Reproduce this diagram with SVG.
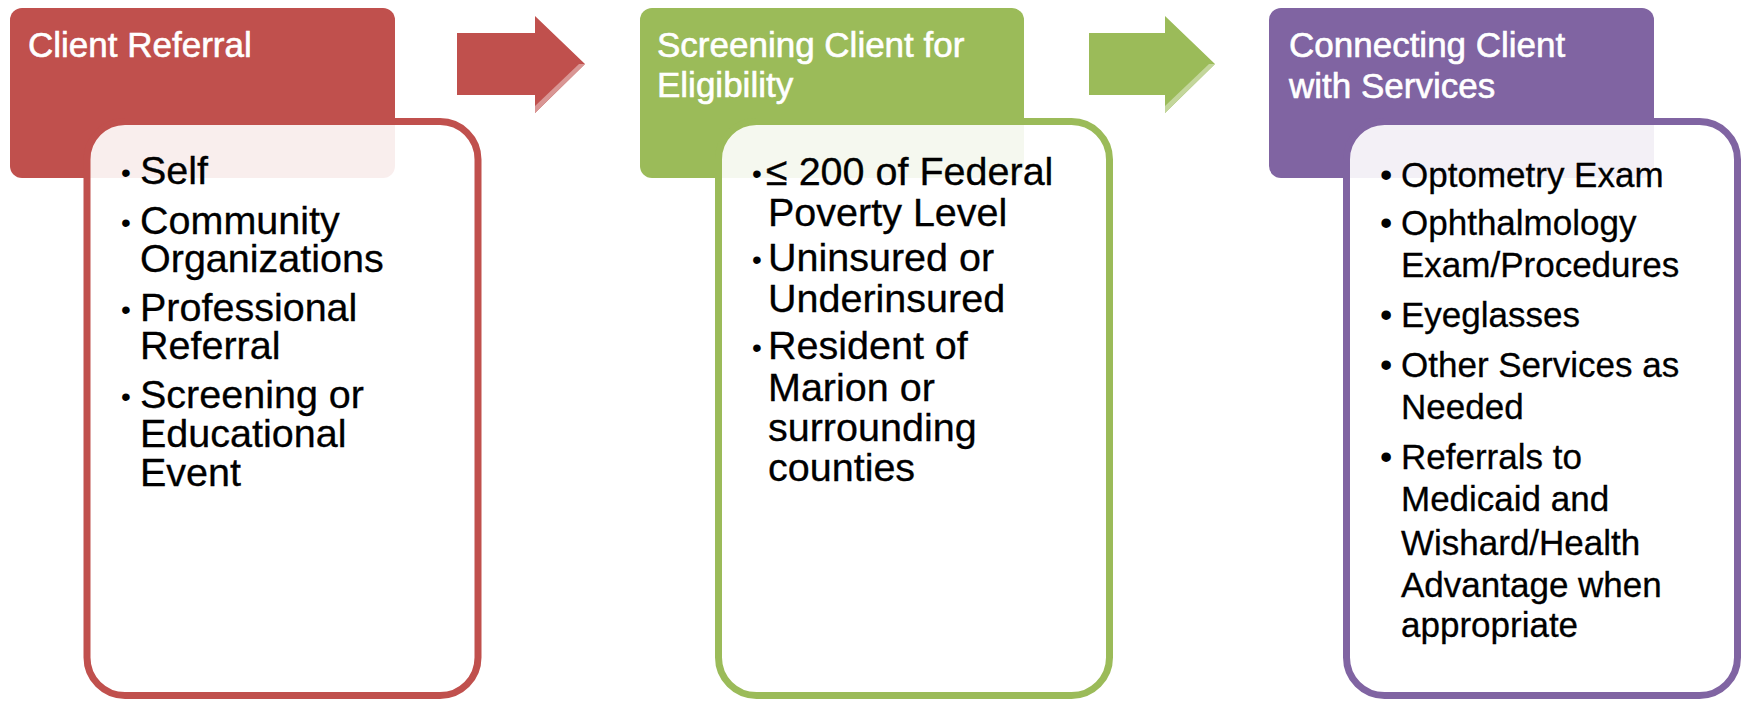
<svg xmlns="http://www.w3.org/2000/svg" width="1746" height="701" viewBox="0 0 1746 701">
<style>
.title{font-family:"Liberation Sans",Arial,sans-serif;font-size:35px;fill:#ffffff;stroke:#ffffff;stroke-width:0.6}
.item{font-family:"Liberation Sans",Arial,sans-serif;font-size:39.5px;fill:#000000;stroke:#000000;stroke-width:0.3}
.item2{font-family:"Liberation Sans",Arial,sans-serif;font-size:35px;fill:#000000;stroke:#000000;stroke-width:0.3}
.dot{font-family:"Liberation Sans",Arial,sans-serif;font-size:28px;fill:#000000}
.dot2{font-family:"Liberation Sans",Arial,sans-serif;font-size:35px;fill:#000000}
.body{fill:#ffffff;fill-opacity:0.9;stroke-width:7}
</style>
<rect width="1746" height="701" fill="#ffffff"/>
<g id="step1-header"><rect x="10" y="8" width="385" height="170" rx="12" fill="#C0504D"/><text class="title" x="28" y="57">Client Referral</text></g>
<g id="step2-header"><rect x="640" y="8" width="384" height="170" rx="12" fill="#9BBB59"/><text class="title" x="657" y="57">Screening Client for</text><text class="title" x="657" y="97">Eligibility</text></g>
<g id="step3-header"><rect x="1269" y="8" width="385" height="170" rx="12" fill="#8064A2"/><text class="title" x="1289" y="57">Connecting Client</text><text class="title" x="1289" y="98">with Services</text></g>
<g id="connectors">
<polygon points="457,33 535,33 535,16 585,64 535,113 535,95 457,95" fill="#C0504D"/>
<polygon points="585,64 535,113 535,106 579,64" fill="#D99694"/>
<polygon points="1089,33 1165,33 1165,16 1215,64 1165,113 1165,95 1089,95" fill="#9BBB59"/>
<polygon points="1215,64 1165,113 1165,106 1209,64" fill="#C3D69B"/>
</g>
<g id="step1-body"><rect class="body" x="87" y="121.5" width="391" height="574" rx="38" stroke="#C0504D"/>
<g class="dot"><text x="121" y="182">•</text><text x="121" y="232">•</text><text x="121" y="319">•</text><text x="121" y="406">•</text></g>
<g class="item"><text x="140" y="184">Self</text>
<text x="140" y="234">Community</text><text x="140" y="272">Organizations</text>
<text x="140" y="321">Professional</text><text x="140" y="359">Referral</text>
<text x="140" y="408">Screening or</text><text x="140" y="447">Educational</text><text x="140" y="486">Event</text></g></g>
<g id="step2-body"><rect class="body" x="718.5" y="121.5" width="391" height="574" rx="38" stroke="#9BBB59"/>
<g class="dot"><text x="752" y="183">•</text><text x="752" y="269">•</text><text x="752" y="357">•</text></g>
<g class="item"><text x="766" y="185">≤ 200 of Federal</text><text x="768" y="226">Poverty Level</text>
<text x="768" y="271">Uninsured or</text><text x="768" y="312">Underinsured</text>
<text x="768" y="359">Resident of</text><text x="768" y="401">Marion or</text><text x="768" y="441">surrounding</text><text x="768" y="481">counties</text></g></g>
<g id="step3-body"><rect class="body" x="1346.5" y="121.5" width="391" height="574" rx="38" stroke="#8064A2"/>
<g class="dot2"><text x="1380" y="187">•</text><text x="1380" y="235">•</text><text x="1380" y="327">•</text><text x="1380" y="377">•</text><text x="1380" y="469">•</text></g>
<g class="item2"><text x="1401" y="187">Optometry Exam</text>
<text x="1401" y="235">Ophthalmology</text><text x="1401" y="277">Exam/Procedures</text>
<text x="1401" y="327">Eyeglasses</text>
<text x="1401" y="377">Other Services as</text><text x="1401" y="419">Needed</text>
<text x="1401" y="469">Referrals to</text><text x="1401" y="511">Medicaid and</text><text x="1401" y="555">Wishard/Health</text><text x="1401" y="597">Advantage when</text><text x="1401" y="637">appropriate</text></g></g>
</svg>
